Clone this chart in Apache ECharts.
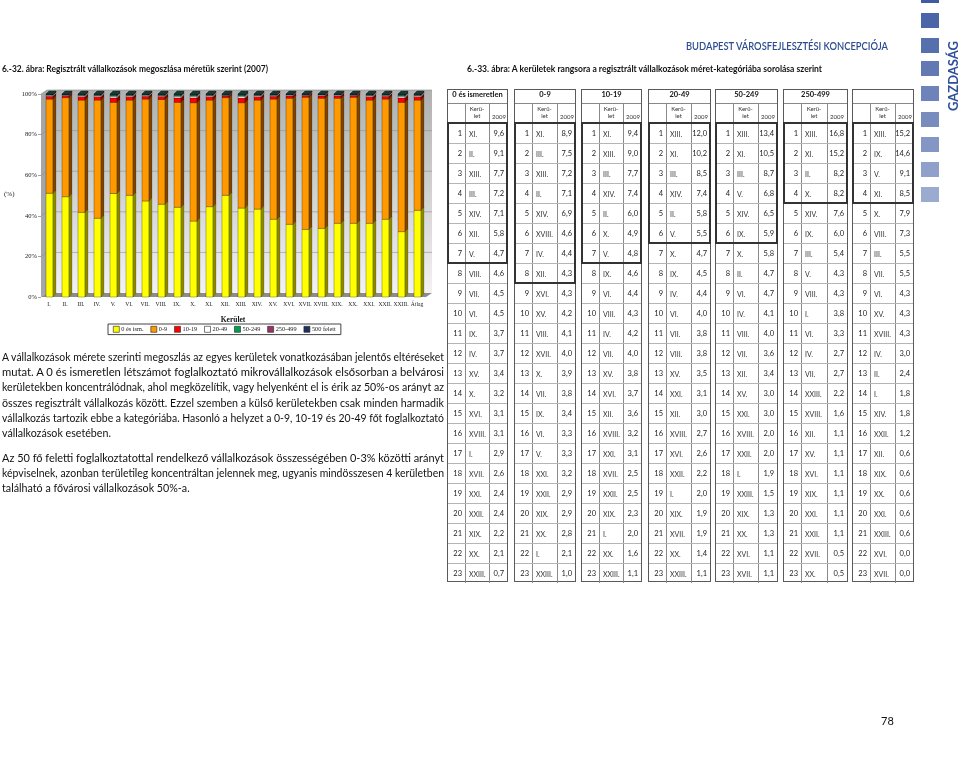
<!DOCTYPE html>
<html><head><meta charset="utf-8">
<script src="https://cdn.jsdelivr.net/npm/echarts/dist/echarts.min.js"></script>
<style>
html,body{margin:0;padding:0;background:#fff;width:960px;height:764px;overflow:hidden;font-family:Lato,'Noto Sans',sans-serif;color:#111;}
#chart{position:absolute;left:0;top:0;width:960px;height:764px;}
#overlay{position:absolute;left:0;top:0;width:960px;height:764px;will-change:transform;}
.abs{position:absolute;white-space:nowrap;}
.fit{display:inline-block;transform-origin:left center;}
</style></head><body>
<div id="chart"></div>
<div id="overlay"></div>
<script>
// ---------- chart data (percent shares, 2007) ----------
const categories = ['I.','II.','III.','IV.','V.','VI.','VII.','VIII.','IX.','X.','XI.','XII.','XIII.','XIV.','XV.','XVI.','XVII.','XVIII.','XIX.','XX.','XXI.','XXII.','XXIII.','Átlag'];
const seriesNames = ['0 és ism.','0-9','10-19','20-49','50-249','250-499','500 felett'];
const share0Ism    = [51.1,49.4,41.7,38.8,51.0,50.1,47.3,45.7,44.2,37.4,44.5,50.1,43.8,43.3,38.3,35.8,33.3,33.8,36.3,36.3,36.3,38.3,32.2,42.7];
const share0to9    = [46.4,48.8,55.3,58.2,44.9,46.9,50.2,51.6,51.7,58.3,52.5,48.1,51.9,53.7,59.2,62.1,65.1,64.1,61.6,62.1,60.7,59.2,63.7,54.3];
const share10to19  = [1.4,1.0,1.7,1.7,2.2,1.7,1.4,1.5,2.2,2.4,1.7,0.9,2.3,1.7,1.4,1.2,0.9,1.2,1.2,0.9,1.7,1.4,2.2,1.7];
const share20to49  = [0.5,0.3,0.6,0.6,0.8,0.6,0.5,0.5,0.8,0.8,0.6,0.3,0.9,0.6,0.5,0.4,0.3,0.4,0.4,0.3,0.6,0.5,0.8,0.6];
const share50to249 = [0.3,0.2,0.3,0.3,0.6,0.3,0.3,0.3,0.6,0.6,0.3,0.2,0.6,0.3,0.2,0.2,0.1,0.2,0.2,0.1,0.3,0.2,0.6,0.3];
const share250to499= [0.1,0.1,0.1,0.1,0.2,0.1,0.1,0.1,0.2,0.2,0.1,0.2,0.2,0.1,0.1,0.1,0.2,0.1,0.1,0.2,0.1,0.1,0.2,0.1];
const share500plus = [0.2,0.2,0.3,0.3,0.3,0.3,0.2,0.3,0.3,0.3,0.3,0.2,0.3,0.3,0.3,0.2,0.1,0.2,0.2,0.1,0.3,0.3,0.3,0.3];
const yTicks = [0,20,40,60,80,100];

// ---------- ranking tables (2009) ----------
const tableHeaders = ['0 és ismeretlen','0-9','10-19','20-49','50-249','250-499',''];
const rankDist_0ism = ['XI.','II.','XIII.','III.','XIV.','XII.','V.','VIII.','VII.','VI.','IX.','IV.','XV.','X.','XVI.','XVIII.','I.','XVII.','XXI.','XXII.','XIX.','XX.','XXIII.'];
const rankVal_0ism  = ['9,6','9,1','7,7','7,2','7,1','5,8','4,7','4,6','4,5','4,5','3,7','3,7','3,4','3,2','3,1','3,1','2,9','2,6','2,4','2,4','2,2','2,1','0,7'];
const rankDist_0to9 = ['XI.','III.','XIII.','II.','XIV.','XVIII.','IV.','XII.','XVI.','XV.','VIII.','XVII.','X.','VII.','IX.','VI.','V.','XXI.','XXII.','XIX.','XX.','I.','XXIII.'];
const rankVal_0to9  = ['8,9','7,5','7,2','7,1','6,9','4,6','4,4','4,3','4,3','4,2','4,1','4,0','3,9','3,8','3,4','3,3','3,3','3,2','2,9','2,9','2,8','2,1','1,0'];
const rankDist_10to19 = ['XI.','XIII.','III.','XIV.','II.','X.','V.','IX.','VI.','VIII.','IV.','VII.','XV.','XVI.','XII.','XVIII.','XXI.','XVII.','XXII.','XIX.','I.','XX.','XXIII.'];
const rankVal_10to19  = ['9,4','9,0','7,7','7,4','6,0','4,9','4,8','4,6','4,4','4,3','4,2','4,0','3,8','3,7','3,6','3,2','3,1','2,5','2,5','2,3','2,0','1,6','1,1'];
const rankDist_20to49 = ['XIII.','XI.','III.','XIV.','II.','V.','X.','IX.','IV.','VI.','VII.','VIII.','XV.','XXI.','XII.','XVIII.','XVI.','XXII.','I.','XIX.','XVII.','XX.','XXIII.'];
const rankVal_20to49  = ['12,0','10,2','8,5','7,4','5,8','5,5','4,7','4,5','4,4','4,0','3,8','3,8','3,5','3,1','3,0','2,7','2,6','2,2','2,0','1,9','1,9','1,4','1,1'];
const rankDist_50to249 = ['XIII.','XI.','III.','V.','XIV.','IX.','X.','II.','VI.','IV.','VIII.','VII.','XII.','XV.','XXI.','XVIII.','XXII.','I.','XXIII.','XIX.','XX.','XVI.','XVII.'];
const rankVal_50to249  = ['13,4','10,5','8,7','6,8','6,5','5,9','5,8','4,7','4,7','4,1','4,0','3,6','3,4','3,0','3,0','2,0','2,0','1,9','1,5','1,3','1,3','1,1','1,1'];
const rankDist_250to499 = ['XIII.','XI.','II.','X.','XIV.','IX.','III.','V.','VIII.','I.','VI.','IV.','VII.','XXIII.','XVIII.','XII.','XV.','XVI.','XIX.','XXI.','XXII.','XVII.','XX.'];
const rankVal_250to499  = ['16,8','15,2','8,2','8,2','7,6','6,0','5,4','4,3','4,3','3,8','3,3','2,7','2,7','2,2','1,6','1,1','1,1','1,1','1,1','1,1','1,1','0,5','0,5'];
const rankDist_500plus = ['XIII.','IX.','V.','XI.','X.','VIII.','III.','VII.','VI.','XV.','XVIII.','IV.','II.','I.','XIV.','XXII.','XII.','XIX.','XX.','XXI.','XXIII.','XVI.','XVII.'];
const rankVal_500plus  = ['15,2','14,6','9,1','8,5','7,9','7,3','5,5','5,5','4,3','4,3','4,3','3,0','2,4','1,8','1,8','1,2','0,6','0,6','0,6','0,6','0,6','0,0','0,0'];

// ---------- chart ----------
const seriesValues = [share0Ism,share0to9,share10to19,share20to49,share50to249,share250to499,share500plus];
const frontColors = ['#ffff00','#ff9900','#ff0000','#ffffff','#00a050','#993366','#1f2f5f'];
const sideColors  = ['#8a8a00','#7a4600','#800000','#9a9a9a','#005028','#4d1a33','#0f1830'];
const G = {left:41, top:94, width:384, height:203};
const DX = 6, DY = 4;

const cum = categories.map(()=>0);
const series = seriesValues.map((vals, s) => {
  const data = vals.map((v, i) => { const st = cum[i]; cum[i] += v; return [i, st, st + v, s === seriesValues.length - 1 ? 1 : 0]; });
  return {
    type:'custom', name: seriesNames[s], coordinateSystem:'cartesian2d',
    itemStyle:{color: frontColors[s]},
    encode:{x:0, y:2},
    renderItem:(params, api) => {
      const i = api.value(0);
      const pb = api.coord([i, api.value(1)]);
      const pt = api.coord([i, api.value(2)]);
      const x = pb[0], yB = pb[1], yT = pt[1];
      const kids = [
        {type:'rect', shape:{x:x-3, y:yT, width:7, height:Math.max(0,yB-yT)}, style:{fill:frontColors[s], stroke:'rgba(0,0,0,0.55)', lineWidth:0.5}},
        {type:'polygon', shape:{points:[[x+4,yB],[x+4,yT],[x+7,yT-3],[x+7,yB-3]]}, style:{fill:sideColors[s], stroke:'rgba(0,0,0,0.4)', lineWidth:0.4}}
      ];
      if (api.value(3) === 1) kids.push({type:'polygon', shape:{points:[[x-3,yT],[x+4,yT],[x+7,yT-3],[x,yT-3]]}, style:{fill:'#1d3a36', stroke:'#0b1a18', lineWidth:0.4}});
      return {type:'group', children:kids};
    },
    data
  };
});

const yPix = v => G.top + G.height - v / 100 * G.height;
const graphics = [];
graphics.push({type:'rect', silent:true, z:-5, shape:{x:G.left+DX, y:G.top-DY, width:G.width+1, height:G.height}, style:{fill:new echarts.graphic.LinearGradient(0,0,0,1,[{offset:0,color:'#b0b0b0'},{offset:1,color:'#f2f2f2'}])}});
graphics.push({type:'polygon', silent:true, z:-5, shape:{points:[[G.left,G.top],[G.left+DX,G.top-DY],[G.left+DX,G.top+G.height-DY],[G.left,G.top+G.height]]}, style:{fill:'#a6a6a6'}});
graphics.push({type:'polygon', silent:true, z:-5, shape:{points:[[G.left,G.top+G.height],[G.left+DX,G.top+G.height-DY],[G.left+G.width+DX+1,G.top+G.height-DY],[G.left+G.width+1,G.top+G.height]]}, style:{fill:'#8c8c8c'}});
yTicks.forEach(v => {
  const y = yPix(v);
  if (v > 0) graphics.push({type:'polyline', silent:true, z:-4, shape:{points:[[G.left,y],[G.left+DX,y-DY],[G.left+G.width+DX+1,y-DY]]}, style:{stroke:'#8f8f8f', lineWidth:0.6, fill:null}});
});
graphics.push({type:'text', silent:true, left:4, top:191, style:{text:'(%)', font:'7px "Liberation Serif"', fill:'#222'}});

const chart = echarts.init(document.getElementById('chart'), null, {renderer:'canvas'});
chart.setOption({
  animation:false,
  grid:{left:G.left, top:G.top, width:G.width, height:G.height, containLabel:false},
  xAxis:{type:'category', data:categories, boundaryGap:true,
    axisLine:{show:false}, axisTick:{show:false},
    axisLabel:{fontSize:5.6, fontFamily:'Liberation Serif', color:'#222', margin:5, interval:0},
    name:'Kerület', nameLocation:'middle', nameGap:19,
    nameTextStyle:{fontSize:7.5, fontWeight:'bold', fontFamily:'Liberation Serif', color:'#111'}},
  yAxis:{type:'value', min:0, max:100, interval:20,
    axisLine:{show:false}, axisTick:{show:true, length:3, lineStyle:{color:'#666', width:0.6}},
    splitLine:{show:false},
    axisLabel:{formatter:'{value}%', fontSize:6.5, fontFamily:'Liberation Serif', color:'#222', margin:4}},
  legend:{left:108, top:324, itemWidth:6, itemHeight:6, itemGap:7, icon:'rect',
    borderColor:'#444', borderWidth:1, padding:[2,5,2,5],
    textStyle:{fontSize:6.3, fontFamily:'Liberation Serif', color:'#222', padding:[0,0,0,-3]},
    itemStyle:{borderColor:'#222', borderWidth:0.6},
    data:seriesNames},
  graphic:graphics,
  series
});

// ---------- HTML overlay ----------
const ov = document.getElementById('overlay');
function el(css, html, parent) { const d = document.createElement('div'); d.className = 'abs'; d.style.cssText = css; if (html !== undefined) d.innerHTML = html; (parent||ov).appendChild(d); return d; }
function fitText(left, cy, width, text, font, color) {
  const d = el(`left:${left}px;top:${cy-10}px;height:20px;line-height:20px;font:${font};color:${color||'#111'};`);
  const s = document.createElement('span'); s.className = 'fit'; s.textContent = text; d.appendChild(s);
  const nat = s.getBoundingClientRect().width; s.style.transform = `scaleX(${width/nat})`;
  return d;
}
fitText(686, 49, 202, 'BUDAPEST VÁROSFEJLESZTÉSI KONCEPCIÓJA', '600 11px Lato', '#2c4c8e');
fitText(2, 73, 266, '6.-32. ábra: Regisztrált vállalkozások megoszlása méretük szerint (2007)', 'bold 9.5px Lato', '#111');
fitText(467, 73, 355, '6.-33. ábra: A kerületek rangsora a regisztrált vállalkozások méret-kategóriába sorolása szerint', 'bold 9.5px Lato', '#111');
el('left:881px;top:714px;font:11px Lato;color:#111;', '78');

// side decoration
[-12,13,38,61,86,112,137,162,187].forEach((t, k) => el(`left:921px;top:${t}px;width:18px;height:15px;background:#3f5ca3;opacity:${Math.max(0.25,1-k*0.06)};`));
const gz = el('left:953px;top:76px;font:bold 13px Lato;color:#2e4f9a;transform:translate(-50%,-50%) rotate(-90deg);transform-origin:center;');
gz.textContent='GAZDASÁG';

// paragraphs
const para1 = ['A vállalkozások mérete szerinti megoszlás az egyes kerületek vonatkozásában jelentős eltéréseket',
 'mutat. A 0 és ismeretlen létszámot foglalkoztató mikrovállalkozások elsősorban a belvárosi',
 'kerületekben koncentrálódnak, ahol megközelítik, vagy helyenként el is érik az 50%-os arányt az',
 'összes regisztrált vállalkozás között. Ezzel szemben a külső kerületekben csak minden harmadik',
 'vállalkozás tartozik ebbe a kategóriába. Hasonló a helyzet a 0-9, 10-19 és 20-49 főt foglalkoztató',
 'vállalkozások esetében.'];
const para2 = ['Az 50 fő feletti foglalkoztatottal rendelkező vállalkozások összességében 0-3% közötti arányt',
 'képviselnek, azonban területileg koncentráltan jelennek meg, ugyanis mindösszesen 4 kerületben',
 'található a fővárosi vállalkozások 50%-a.'];
function drawPara(lines, y0) {
  const lh = 15.2, W = 442, font = '12px Lato';
  const spans = lines.map((t, k) => {
    const d = el(`left:2px;top:${y0 + k*lh - 8}px;height:16px;line-height:16px;font:${font};color:#111;`);
    const s = document.createElement('span'); s.className='fit'; s.textContent = t; d.appendChild(s); return s;
  });
  const scales = [];
  spans.forEach((s, k) => {
    if (k === spans.length - 1) return;
    const nat = s.getBoundingClientRect().width; const sc = Math.min(1, W / nat); scales.push(sc);
    const spaces = (lines[k].match(/ /g)||[]).length;
    const extra = (W / sc - nat) / spaces;
    s.style.wordSpacing = extra + 'px'; s.style.transform = `scaleX(${sc})`;
  });
  const avg = scales.reduce((a,b)=>a+b,0)/scales.length;
  spans[spans.length-1].style.transform = `scaleX(${avg})`;
}
drawPara(para1, 357);
drawPara(para2, 458);

// tables
const rankDistricts = [rankDist_0ism, rankDist_0to9, rankDist_10to19, rankDist_20to49, rankDist_50to249, rankDist_250to499, rankDist_500plus];
const rankValues = [rankVal_0ism, rankVal_0to9, rankVal_10to19, rankVal_20to49, rankVal_50to249, rankVal_250to499, rankVal_500plus];
const boxLeft = [447,514,581,648,715,783,852], boxRight = [508,576,642,711,778,848,914];
const groupSize = [7,8,7,6,6,4,4];
const T0 = 89, T1 = 103, T2 = 122, RH = 20, NR = 23;
for (let b = 0; b < 7; b++) {
  const L = boxLeft[b], W = boxRight[b] - L, H = T2 + RH*NR - T0;
  const c1 = 17, c2 = Math.round(W*0.4);
  const box = el(`left:${L}px;top:${T0}px;width:${W}px;height:${H}px;border:1px solid #5a5a5a;box-sizing:border-box;background:#fff;`);
  const rel = (css, html) => el(css, html, box);
  rel(`left:0;top:0;width:${W-2}px;height:${T1-T0}px;line-height:${T1-T0}px;text-align:center;font:bold 7.5px Lato;border-bottom:1px solid #888;box-sizing:border-box;`, tableHeaders[b]);
  rel(`left:${c1}px;top:${T1-T0}px;width:1px;height:${H-(T1-T0)}px;background:#8a8a8a;`);
  rel(`left:${c1+c2}px;top:${T1-T0}px;width:1px;height:${H-(T1-T0)}px;background:#8a8a8a;`);
  rel(`left:${c1}px;top:${T1-T0+1}px;width:${c2}px;text-align:center;font:6px/7px Lato;color:#333;`, 'Kerü-<br>let');
  rel(`left:${c1+c2+3}px;top:${T1-T0+9}px;font:6px/7px Lato;color:#333;`, '2009');
  for (let r = 1; r < NR; r++) rel(`left:0;top:${T2-T0+RH*r}px;width:${W-2}px;height:1px;background:#b5b5b5;`);
  rel(`left:-1px;top:${T2-T0-1}px;width:${W}px;height:${RH*groupSize[b]+2}px;border:2px solid #333;box-sizing:border-box;`);
  for (let r = 0; r < NR; r++) {
    const cy = T2 - T0 + RH*r + RH/2 + 0.5;
    rel(`left:0;top:${cy-6}px;width:${c1-3}px;text-align:right;font:7.5px/12px Lato;color:#222;`, String(r+1));
    rel(`left:${c1+4}px;top:${cy-6}px;font:7px/12px Lato;color:#333;`, rankDistricts[b][r]);
    rel(`left:${c1+c2}px;top:${cy-6}px;width:${W-c1-c2-5}px;text-align:right;font:7.5px/12px Lato;color:#222;`, rankValues[b][r]);
  }
}
</script>
</body></html>
